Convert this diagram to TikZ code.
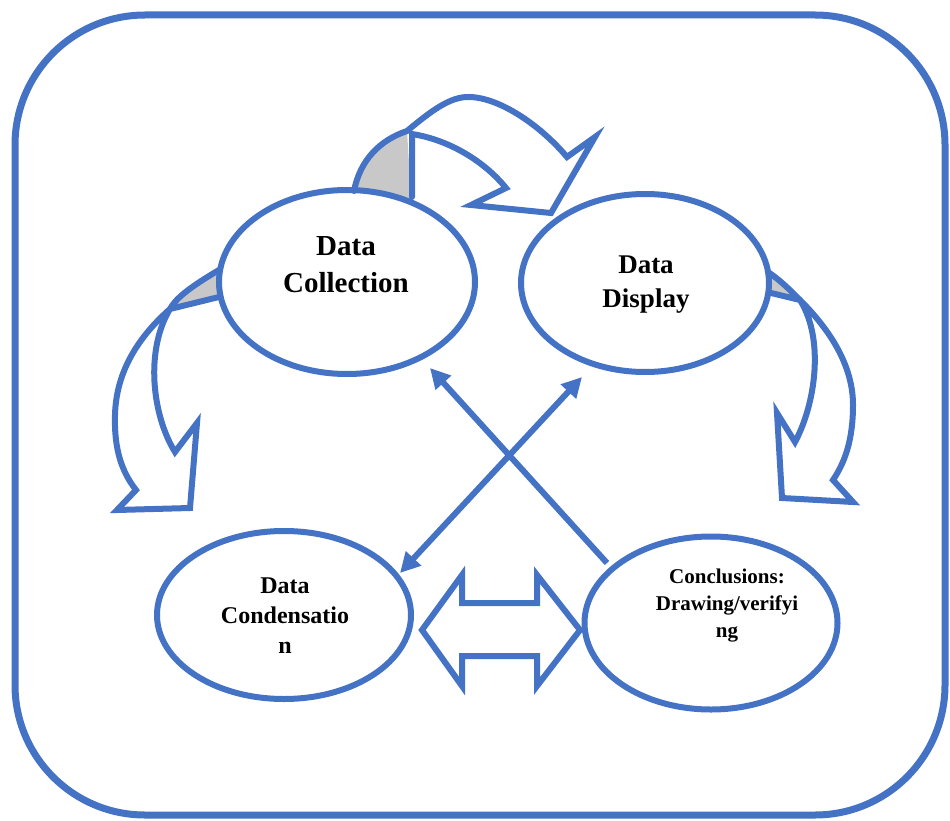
\documentclass[tikz,border=0pt]{standalone}
\usepackage{fontspec}
\setmainfont{Liberation Serif}
\usetikzlibrary{shapes.geometric,arrows.meta}
\definecolor{obl}{HTML}{4472C4}
\definecolor{shadegray}{HTML}{C8C8C8}
\begin{document}
\begin{tikzpicture}[x=1pt,y=-1pt,
  ell/.style={ellipse, draw=obl, line width=6pt, fill=white, inner sep=0pt},
  outl/.style={draw=obl, line width=6pt, line join=miter, line cap=round},
  grayface/.style={fill=shadegray, draw=none},
  conn/.style={draw=obl, line width=6pt},
  txt/.style={font=\bfseries, align=center, inner sep=0pt, text=black}]
\useasboundingbox (0,0) rectangle (950,821);
\draw[draw=obl, line width=7pt, rounded corners=130pt] (15,15) rectangle (945,815);

% grey faces of the curved arrows
\fill[grayface] (354,192) .. controls (360,160) and (380,140) .. (407,131) -- (412,210) -- (354,210) -- cycle;
\fill[grayface] (221,270) .. controls (200,282) and (185,295) .. (170,309) -- (221,297) -- (235,297) -- (235,270) -- cycle;
\fill[grayface] (766,272) .. controls (780,280) and (790,290) .. (800,300) -- (771,293) -- (755,293) -- (755,272) -- cycle;

% ellipses
\node[ell, minimum width=256pt, minimum height=184pt] (coll) at (347,282) {};
\node[ell, minimum width=248pt, minimum height=178pt] (disp) at (645,283) {};
\node[ell, minimum width=254pt, minimum height=168pt] (cond) at (284,615) {};
\node[ell, minimum width=253pt, minimum height=173pt] (concl) at (711,623) {};

% top curved arrow
\draw[outl] (354,191) .. controls (360,160) and (380,140) .. (407,131)
  .. controls (430,112) and (450,96) .. (470,97)
  .. controls (500,98) and (540,125) .. (567,157)
  -- (595,137) -- (551,213) -- (471,205) -- (506,188)
  .. controls (485,162) and (450,140) .. (412,134)
  -- (412,197);
% left curved arrow
\draw[outl] (219,270) .. controls (185,290) and (175,300) .. (170,309)
  .. controls (135,340) and (116,375) .. (115,415)
  .. controls (114,450) and (122,472) .. (136,490)
  -- (117,510) -- (190,508) -- (197,423) -- (175,452)
  .. controls (152,415) and (145,350) .. (170,309)
  -- (219,297);
% right curved arrow
\draw[outl] (768,272) .. controls (780,280) and (790,290) .. (800,300)
  .. controls (835,335) and (853,370) .. (853,405)
  .. controls (853,440) and (845,462) .. (833,480)
  -- (853,502) -- (782,498) -- (777,413) -- (795,442)
  .. controls (815,405) and (825,340) .. (800,300)
  -- (771,293);

% double block arrow
\draw[outl] (422,630) -- (462,575) -- (462,603) -- (537,603) -- (537,575) -- (580,630)
  -- (537,686) -- (537,656) -- (462,656) -- (462,686) -- cycle;

% straight arrows
\coordinate (a1s) at (607,563);
\coordinate (a1e) at (430,368);
\coordinate (a2s) at (400,573);
\coordinate (a2e) at (582,377);
\draw[conn, -{Triangle[length=20pt,width=20pt]}] (a1s) -- (a1e);
\draw[conn, {Triangle[length=20pt,width=20pt]}-{Triangle[length=20pt,width=20pt]}] (a2s) -- (a2e);

% texts
\node[txt, font=\bfseries\fontsize{29pt}{37pt}\selectfont] (tcoll) at (346,265) {Data\\Collection};
\node[txt, font=\bfseries\fontsize{27pt}{34pt}\selectfont] (tdisp) at (646,285) {Data\\Display};
\node[txt, font=\bfseries\fontsize{24pt}{30pt}\selectfont] (tcond) at (285,616) {Data\\Condensatio\\n};
\node[txt, font=\bfseries\fontsize{21pt}{27pt}\selectfont] (tconcl) at (727,606) {Conclusions:\\Drawing/verifyi\\ng};
\end{tikzpicture}
\end{document}
